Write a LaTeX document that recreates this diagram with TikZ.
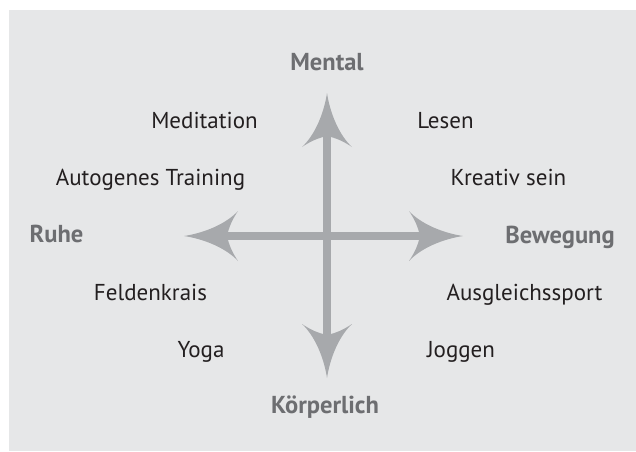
\documentclass[tikz,border=0pt]{standalone}
\usepackage{fontspec}
\setmainfont{PT Sans}
\definecolor{bgc}{HTML}{E6E7E8}
\definecolor{arr}{HTML}{A7A9AC}
\definecolor{axlab}{HTML}{6D6E71}
\definecolor{txt}{HTML}{231F20}
\tikzset{
  item/.style={font=\fontsize{23}{23}\selectfont, text=txt, anchor=base, inner sep=0pt},
  axlabel/.style={item, font=\fontsize{24.5}{24.5}\selectfont\bfseries, text=axlab},
  shaft/.style={draw=arr, line width=8pt, shorten >=40pt},
  pics/ahead/.style={code={
    \fill[arr] (0,0) .. controls (-20,3) and (-42,12) .. (-54,25)
      .. controls (-48,16) and (-45,9) .. (-43,0)
      .. controls (-45,-9) and (-48,-16) .. (-54,-25)
      .. controls (-42,-12) and (-20,-3) .. (0,0) -- cycle;}}
}
\begin{document}
\begin{tikzpicture}[x=1pt,y=-1pt]
\useasboundingbox (0,0) rectangle (636,451);
\fill[white] (0,0) rectangle (636,451);
\fill[bgc] (9,10) rectangle (636,451);
% arrows
\coordinate (c) at (327,236);
\coordinate (tR) at (463,236);
\coordinate (tL) at (184,236);
\coordinate (tU) at (327,93);
\coordinate (tD) at (327,378);
\draw[shaft] (c) -- (tR);
\draw[shaft] (c) -- (tL);
\draw[shaft] (c) -- (tU);
\draw[shaft] (c) -- (tD);
\pic at (tR) {ahead};
\pic[rotate=180] at (tL) {ahead};
\pic[rotate=90] at (tU) {ahead};
\pic[rotate=-90] at (tD) {ahead};
% axis labels
\node[axlabel] (mental) at (327,70) {Mental};
\node[axlabel] (koerper) at (325,413) {Körperlich};
\node[axlabel] (ruhe) at (56.5,242) {Ruhe};
\node[axlabel] (beweg) at (560,243) {Bewegung};
% items
\node[item] (medit) at (204.5,128) {Meditation};
\node[item] (auto) at (150.5,185) {Autogenes Training};
\node[item] (feld) at (150.5,300) {Feldenkrais};
\node[item] (yoga) at (201,357) {Yoga};
\node[item] (lesen) at (445.5,128) {Lesen};
\node[item] (kreativ) at (508.5,185) {Kreativ sein};
\node[item] (ausgl) at (524.5,300) {Ausgleichssport};
\node[item] (joggen) at (461,357) {Joggen};
\end{tikzpicture}
\end{document}
